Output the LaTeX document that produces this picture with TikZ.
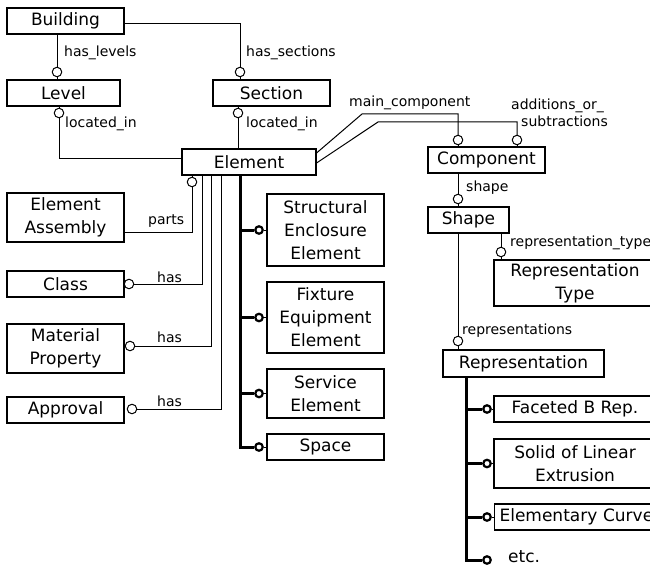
\documentclass[tikz,border=0pt]{standalone}
\usepackage{fontspec}
\setmainfont{DejaVu Sans}
\begin{document}
\begin{tikzpicture}[x=1pt,y=-1pt,
  box/.style={draw, line width=1.1pt, inner sep=0pt, align=center,
    font=\fontsize{17}{23}\selectfont},
  sz/.style 2 args={minimum width=#1pt, minimum height=#2pt},
  lbl/.style={anchor=west, inner sep=0pt, font=\fontsize{14}{16}\selectfont},
  ocirc/.style={circle, draw, fill=white, line width=1pt, minimum size=9.5pt, inner sep=0pt},
  bcirc/.style={circle, draw, fill=white, line width=2.2pt, minimum size=7.5pt, inner sep=0pt},
  link/.style={line width=1pt},
  trunk/.style={line width=3pt},
]
\useasboundingbox (0,0) rectangle (650,567);
\clip (0,0) rectangle (650,567);
\fill[white] (0,0) rectangle (650,567);

% ---- entity boxes ----
\node[box, sz={117}{26}] (building) at (65.5,21) {Building};
\node[box, sz={113}{26}] (level) at (63.5,93) {Level};
\node[box, sz={117}{26}] (section) at (271.5,93) {Section};
\node[box, sz={134}{26}] (element) at (249,162) {Element};

\node[box, sz={117}{49}] (assembly) at (65.5,217.5) {Element\\Assembly};
\node[box, sz={117}{26}] (class) at (65.5,284) {Class};
\node[box, sz={117}{49}] (material) at (65.5,348.5) {Material\\Property};
\node[box, sz={117}{26}] (approval) at (65.5,410) {Approval};

\node[box, sz={117}{72}] (structural) at (325.5,230) {Structural\\Enclosure\\Element};
\node[box, sz={117}{71}] (fixture) at (325.5,317.5) {Fixture\\Equipment\\Element};
\node[box, sz={117}{49}] (service) at (325.5,393.5) {Service\\Element};
\node[box, sz={117}{26}] (space) at (325.5,447) {Space};

\node[box, sz={117}{26}] (component) at (486.5,160) {Component};
\node[box, sz={81}{26}] (shape) at (468.5,220) {Shape};
\node[box, sz={162}{46}] (reptype) at (575,283) {Representation\\Type};
\node[box, sz={161}{27}] (representation) at (523.5,363.5) {Representation};

\node[box, sz={162}{26}] (faceted) at (575,409) {Faceted B Rep.};
\node[box, sz={162}{49}] (solid) at (575,463.5) {Solid of Linear\\Extrusion};
\node[box, minimum height=26pt, anchor=west, inner xsep=5pt, text width=175pt, align=left]
  (elementary) at (494,517) {Elementary Curve};
\node[anchor=west, inner sep=0pt, font=\fontsize{17}{23}\selectfont] (etc) at (508,557) {etc.};

% ---- optional-end circles ----
\node[ocirc] (c1) at (57,72) {};
\node[ocirc] (c2) at (240,72) {};
\node[ocirc] (c3) at (59,113) {};
\node[ocirc] (c4) at (238,113) {};
\node[ocirc] (cm) at (458,140) {};
\node[ocirc] (ca) at (517,140) {};
\node[ocirc] (cs) at (458,199) {};
\node[ocirc] (crt) at (501,252) {};
\node[ocirc] (cr) at (458,341) {};
\node[ocirc] (cp) at (192,182) {};
\node[ocirc] (cc) at (129,284) {};
\node[ocirc] (cmat) at (130,346) {};
\node[ocirc] (cap) at (132,409) {};

\node[bcirc] (b1) at (259,230) {};
\node[bcirc] (b2) at (259,317.5) {};
\node[bcirc] (b3) at (259,393.5) {};
\node[bcirc] (b4) at (259,447) {};
\node[bcirc] (r1) at (487,409) {};
\node[bcirc] (r2) at (487,463.5) {};
\node[bcirc] (r3) at (487,517) {};
\node[bcirc] (r4) at (487,560) {};

% ---- relationships ----
\draw[link] (c1 |- building.south) -- (c1.north);
\draw[link] (c1.south) -- (c1 |- level.north);
\draw[link] ([yshift=-3pt]building.east) -| (c2.north);
\draw[link] (c2.south) -- (c2 |- section.north);
\draw[link] (c3 |- level.south) -- (c3.north);
\draw[link] (c3.south) |- ([yshift=4pt]element.west);
\draw[link] (c4 |- section.south) -- (c4.north);
\draw[link] (c4.south) -- (c4 |- element.north);

\draw[link] ([yshift=9pt]element.east) -- (362,114) -| (cm.north);
\draw[link] (cm.south) -- (cm |- component.north);
\draw[link] ([yshift=-1pt]element.east) -- (378,122) -| (ca.north);
\draw[link] (ca.south) -- (ca |- component.north);

\draw[link] (cs |- component.south) -- (cs.north);
\draw[link] (cs.south) -- (cs |- shape.north);
\draw[link] (crt |- shape.south) -- (crt.north);
\draw[link] (crt.south) -- (crt |- reptype.north);
\draw[link] (cr |- shape.south) -- (cr.north);
\draw[link] (cr.south) -- (cr |- representation.north);

\draw[link] (cp |- element.south) -- (cp.north);
\draw[link] (cp.south) |- ([yshift=-14.5pt]assembly.east);
\draw[link] (cc.east) -| ([xshift=-47pt]element.south);
\draw[link] (cmat.east) -| ([xshift=-38pt]element.south);
\draw[link] (cap.east) -| ([xshift=-28pt]element.south);

% ---- subtype trees ----
\coordinate (et) at ([xshift=-9pt]element.south);
\draw[trunk] (et) |- (b4.west);
\draw[trunk] (et |- b1) -- (b1.west);
\draw[trunk] (et |- b2) -- (b2.west);
\draw[trunk] (et |- b3) -- (b3.west);
\draw[link] (b1.east) -- (structural.west);
\draw[link] (b2.east) -- (fixture.west);
\draw[link] (b3.east) -- (service.west);
\draw[link] (b4.east) -- (space.west);

\coordinate (rt) at ([xshift=-57.5pt]representation.south);
\draw[trunk] (rt) |- (r4.west);
\draw[trunk] (rt |- r1) -- (r1.west);
\draw[trunk] (rt |- r2) -- (r2.west);
\draw[trunk] (rt |- r3) -- (r3.west);
\draw[link] (r1.east) -- (faceted.west);
\draw[link] (r2.east) -- (solid.west);
\draw[link] (r3.east) -- (elementary.west);

% ---- role labels ----
\node[lbl] (l1) at (64,53) {has\_levels};
\node[lbl] (l2) at (246,53) {has\_sections};
\node[lbl] (l3) at (65,124) {located\_in};
\node[lbl] (l4) at (246,124) {located\_in};
\node[lbl] (l5) at (349,103) {main\_component};
\node[lbl] (l6) at (511,106) {additions\_or\_};
\node[lbl] (l7) at (521,121) {subtractions};
\node[lbl] (l8) at (466,188) {shape};
\node[lbl] (l9) at (510,243) {representation\_type};
\node[lbl] (l10) at (462,331) {representations};
\node[lbl] (l11) at (148,221) {parts};
\node[lbl] (l12) at (157,277) {has};
\node[lbl] (l13) at (157,337) {has};
\node[lbl] (l14) at (157,401) {has};
\end{tikzpicture}
\end{document}
